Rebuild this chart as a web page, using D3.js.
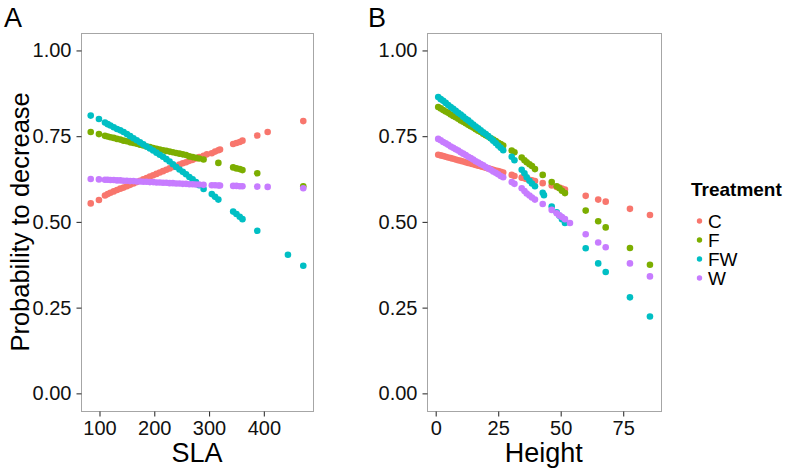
<!DOCTYPE html>
<html>
<head>
<meta charset="utf-8">
<script src="https://cdn.jsdelivr.net/npm/d3@7"></script>
<style>
  html, body { margin: 0; padding: 0; background: #fff; }
  svg { display: block; font-family: "Liberation Sans", Arial, Helvetica, sans-serif; }
</style>
</head>
<body>
<svg id="chart" width="800" height="472"></svg>
<script>
// ---------------- DATA ----------------
const treatments = ["C", "F", "FW", "W"];
const colors = ["#F8766D", "#7CAE00", "#00BFC4", "#C77CFF"];

// Panel A: SLA values (shared), null = no point for that treatment
const slaValues = [84, 99, 110, 115, 120, 126, 132, 138, 144, 150, 156, 162, 168, 174, 180, 186,
  192, 198, 204, 210, 216, 222, 228, 234, 240, 246, 252, 258, 264, 270, 276, 282,
  290, 296, 305, 311, 317, 320, 344, 350, 356, 361, 388, 407, 444, 472];

const slaProbC = [0.554, 0.564, 0.577, 0.581, 0.585, 0.589, 0.593, 0.597, 0.600, 0.604, 0.608, 0.612, 0.616, 0.620, 0.624, 0.628,
  0.632, 0.636, 0.640, 0.644, 0.648, 0.652, 0.656, 0.660, 0.663, 0.667, 0.671, 0.674, 0.678, 0.681, 0.685, 0.689,
  0.693, 0.697, 0.700, 0.705, 0.709, 0.711, 0.727, 0.730, 0.733, 0.737, 0.752, 0.762, null, 0.794];
const slaProbF = [0.762, 0.756, 0.751, 0.749, 0.747, 0.745, 0.742, 0.740, 0.737, 0.735, 0.732, 0.730, 0.728, 0.725, 0.723, 0.720,
  0.718, 0.715, 0.713, 0.711, 0.709, 0.707, 0.705, 0.703, 0.701, 0.699, 0.697, 0.695, 0.691, 0.689, 0.687, 0.685,
  0.682, null, null, null, 0.672, null, 0.659, 0.656, 0.654, 0.651, 0.642, null, null, 0.604];
const slaProbFW = [0.810, 0.800, 0.790, 0.785, 0.781, 0.776, 0.771, 0.767, 0.762, 0.756, 0.750, 0.744, 0.738, 0.732, 0.726, 0.720,
  0.714, 0.708, 0.702, 0.696, 0.690, 0.683, 0.676, 0.668, 0.660, 0.653, 0.646, 0.639, 0.631, 0.624, 0.616, 0.607,
  0.596, null, 0.581, 0.573, 0.565, null, 0.530, 0.523, 0.515, 0.508, 0.474, null, 0.404, 0.372];
const slaProbW = [0.625, 0.624, 0.623, 0.623, 0.622, 0.622, 0.621, 0.621, 0.620, 0.620, 0.619, 0.619, 0.618, 0.618, 0.617, 0.617,
  0.616, 0.616, 0.615, 0.615, 0.614, 0.614, 0.613, 0.613, 0.612, 0.612, 0.611, 0.611, 0.610, 0.610, 0.609, 0.609,
  0.608, null, 0.607, 0.607, 0.606, 0.606, 0.605, 0.605, 0.604, 0.604, 0.603, 0.602, null, 0.598];

// Panel B: Height values (shared)
const heightValues = [1, 2, 3, 4, 5, 6, 7, 8, 9, 10, 11, 12, 13, 14, 15, 16, 17, 18, 19, 20, 21, 22, 23, 24, 25, 26, 27,
  30.4, 31.5, 34.4, 35.5, 36.4, 37.5, 38.5, 39.7, 42.8, 43.3, 46.4, 48.4, 49.5, 50.5, 51.7, 53.7, 60, 65, 68, 77.7, 85.7];

const hProbC = [0.696, 0.694, 0.692, 0.690, 0.688, 0.686, 0.684, 0.682, 0.680, 0.678, 0.676, 0.674, 0.672, 0.670, 0.668, 0.666, 0.664, 0.662, 0.660, 0.658, 0.656, 0.654, 0.652, 0.650, 0.648, 0.646, 0.644,
  0.637, 0.634, 0.629, 0.627, 0.625, 0.623, 0.621, 0.619, 0.613, null, 0.606, 0.602, 0.600, 0.597, 0.594, null, 0.576, 0.565, 0.559, 0.538, 0.520];
const hProbF = [0.835, 0.831, 0.826, 0.822, 0.818, 0.813, 0.809, 0.805, 0.801, 0.796, 0.792, 0.788, 0.783, 0.779, 0.775, 0.770, 0.766, 0.762, 0.757, 0.753, 0.749, 0.744, 0.740, 0.736, 0.731, 0.727, 0.723,
  0.708, 0.703, 0.688, 0.680, 0.674, 0.668, 0.663, 0.654, 0.637, null, 0.616, 0.604, 0.598, 0.591, 0.584, null, 0.533, 0.502, 0.484, 0.424, 0.375];
const hProbFW = [0.864, 0.858, 0.853, 0.847, 0.841, 0.835, 0.830, 0.824, 0.818, 0.813, 0.807, 0.801, 0.796, 0.790, 0.784, 0.778, 0.773, 0.767, 0.761, 0.756, 0.750, 0.744, 0.737, 0.730, 0.723, 0.716, 0.709,
  0.690, 0.680, 0.652, 0.642, 0.630, 0.620, 0.612, 0.604, 0.585, 0.578, 0.545, 0.528, 0.518, 0.508, 0.497, null, 0.423, 0.379, 0.354, 0.280, 0.224];
const hProbW = [0.742, 0.738, 0.733, 0.729, 0.725, 0.720, 0.716, 0.712, 0.708, 0.703, 0.699, 0.695, 0.690, 0.686, 0.682, 0.677, 0.673, 0.669, 0.665, 0.660, 0.656, 0.652, 0.647, 0.643, 0.639, 0.634, 0.630,
  0.616, 0.611, 0.598, 0.590, 0.583, 0.577, 0.571, 0.565, 0.552, null, 0.535, 0.525, 0.519, 0.514, 0.508, 0.497, 0.464, 0.440, 0.426, 0.379, 0.341];

const yTicks = [0, 0.25, 0.5, 0.75, 1];
const yTickLabels = ["0.00", "0.25", "0.50", "0.75", "1.00"];
const slaTicks = [100, 200, 300, 400];
const heightTicks = [0, 25, 50, 75];

// ---------------- DRAWING ----------------
const svg = d3.select("#chart");
const plotTop = 33.3, plotBottom = 410.5;

const y = d3.scaleLinear().domain([-0.05, 1.05]).range([plotBottom, plotTop]);

const panels = [
  { letter: "A", letterX: 4, left: 80.7, right: 313.3, domain: [65.7, 490.3], ticks: slaTicks, xs: slaValues,
    probs: [slaProbC, slaProbF, slaProbFW, slaProbW], title: "SLA" },
  { letter: "B", letterX: 368, left: 426.7, right: 660.7, domain: [-3.6, 90], ticks: heightTicks, xs: heightValues,
    probs: [hProbC, hProbF, hProbFW, hProbW], title: "Height" }
];

panels.forEach(p => {
  const x = d3.scaleLinear().domain(p.domain).range([p.left, p.right]);
  const g = svg.append("g");

  treatments.forEach((t, ti) => {
    const pts = p.xs.map((xv, i) => ({ x: xv, p: p.probs[ti][i] })).filter(d => d.p !== null);
    g.append("g").selectAll("circle").data(pts).join("circle")
      .attr("cx", d => x(d.x)).attr("cy", d => y(d.p))
      .attr("r", 3.3).attr("fill", colors[ti]);
  });

  g.append("rect")
    .attr("x", Math.round(p.left) + 0.5).attr("y", Math.round(plotTop) + 0.5)
    .attr("width", Math.round(p.right) - Math.round(p.left))
    .attr("height", Math.round(plotBottom) - Math.round(plotTop))
    .attr("fill", "none").attr("stroke", "#a6a6a6").attr("stroke-width", 1);

  const xAxis = d3.axisBottom(x).tickValues(p.ticks).tickSize(5).tickPadding(4).tickFormat(d3.format("d"));
  const xa = g.append("g").attr("transform", `translate(0,${Math.round(plotBottom) + 0.5})`).call(xAxis);
  xa.select(".domain").remove();
  xa.selectAll(".tick line").attr("stroke", "#333").attr("stroke-width", 1.1);
  xa.selectAll(".tick text").attr("font-size", 20).attr("fill", "#111")
    .attr("font-family", "Liberation Sans, Arial, sans-serif");

  const yAxis = d3.axisLeft(y).tickValues(yTicks).tickSize(5).tickPadding(5)
    .tickFormat((d, i) => yTickLabels[i]);
  const ya = g.append("g").attr("transform", `translate(${Math.round(p.left) + 0.5},0)`).call(yAxis);
  ya.select(".domain").remove();
  ya.selectAll(".tick line").attr("stroke", "#333").attr("stroke-width", 1.1);
  ya.selectAll(".tick text").attr("font-size", 20).attr("fill", "#111")
    .attr("font-family", "Liberation Sans, Arial, sans-serif");

  g.append("text").attr("x", (p.left + p.right) / 2).attr("y", 462)
    .attr("text-anchor", "middle").attr("font-size", 27).attr("fill", "#000").text(p.title);

  g.append("text").attr("x", p.letterX).attr("y", 27)
    .attr("font-size", 27).attr("fill", "#000").text(p.letter);
});

svg.append("text")
  .attr("transform", `translate(29,${(plotTop + plotBottom) / 2}) rotate(-90)`)
  .attr("text-anchor", "middle").attr("font-size", 25.5).attr("fill", "#000")
  .text("Probability to decrease");

const leg = svg.append("g");
leg.append("text").attr("x", 691).attr("y", 196).attr("font-size", 19).attr("font-weight", "bold")
  .attr("fill", "#000").text("Treatment");
const legY = d3.scalePoint().domain(treatments).range([221, 278]);
treatments.forEach((t, i) => {
  leg.append("circle").attr("cx", 699.5).attr("cy", legY(t)).attr("r", 2.7).attr("fill", colors[i]);
  leg.append("text").attr("x", 708).attr("y", legY(t) + 7).attr("font-size", 19).attr("fill", "#000").text(t);
});
</script>
</body>
</html>
